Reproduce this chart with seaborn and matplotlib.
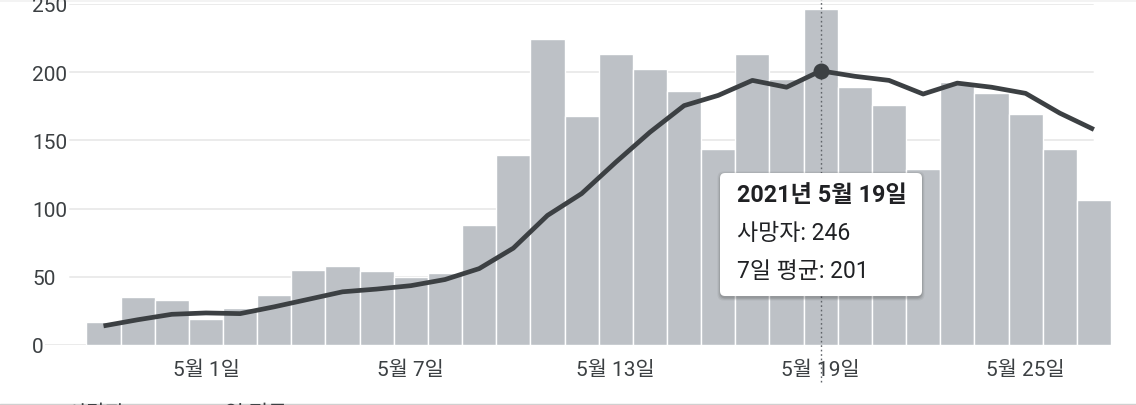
import numpy as np
import pandas as pd
import matplotlib
matplotlib.use("Agg")
import matplotlib.pyplot as plt
import matplotlib.patches as mpatches
from matplotlib.lines import Line2D
from matplotlib.transforms import IdentityTransform
import seaborn as sns

# ---------------- data ----------------
dates = pd.date_range("2021-04-28", "2021-05-27", freq="D")
deaths = [17, 35, 33, 19, 27, 37, 55, 58, 54, 50,
          53, 88, 139, 224, 168, 213, 202, 186, 144, 213,
          195, 246, 189, 176, 129, 193, 185, 169, 144, 106]
avg7 = [14, 18.5, 22.5, 23.5, 23, 28, 33.5, 39, 41, 43.5,
        48, 56, 71, 95, 111, 134, 156, 175.5, 183, 194,
        189, 201, 197, 194, 184, 192, 189, 184.5, 170, 158]
tick_dates = ["2021-05-01", "2021-05-07", "2021-05-13", "2021-05-19", "2021-05-25"]
yticks = [0, 50, 100, 150, 200, 250]
hover_date = "2021-05-19"
series_names = ["사망자", "7일 평균"]

df = pd.DataFrame({"date": dates, "deaths": deaths, "avg": avg7})
df["day"] = (df["date"] - df["date"].iloc[0]).dt.days

# ---------------- style ----------------
sns.set_style("white")
FAM = ["Roboto", "Noto Sans CJK KR", "DejaVu Sans"]
plt.rcParams["font.family"] = FAM

BAR = "#bdc1c6"
LINE = "#3c4043"
GRID = "#ebebeb"
TXT = "#3c4043"
TICK_FS = 15

W, H = 1136, 406
fig = plt.figure(figsize=(W / 100, H / 100), dpi=100)
fig.patch.set_facecolor("white")

ax_l, ax_r, ax_b, ax_t = 45, 1112, 346, 5
ax = fig.add_axes([ax_l / W, (H - ax_b) / H, (ax_r - ax_l) / W, (ax_b - ax_t) / H])
ax.set_facecolor("none")

sns.barplot(data=df, x="day", y="deaths", native_scale=True, width=1.0,
            color=BAR, saturation=1, edgecolor="white", linewidth=1.0,
            errorbar=None, ax=ax, zorder=2)
sns.lineplot(data=df, x="day", y="avg", color=LINE, linewidth=3.4,
             ax=ax, zorder=4, solid_capstyle="butt", solid_joinstyle="round")

# scales
x0 = -1.713
x1 = 29.53
ax.set_xlim(x0, x1)
ax.set_ylim(0, 250)

# grid lines (shorter on the left for the non-zero ones)
gx_end = (1093 - ax_l) / (ax_r - ax_l)
gx_start = (70 - ax_l) / (ax_r - ax_l)
for yv in yticks:
    ax.axhline(yv, xmin=0 if yv == 0 else gx_start, xmax=gx_end,
               color=GRID, lw=1.4, zorder=1)

# y ticks
ax.set_yticks(yticks)
ax.set_yticklabels([str(v) for v in yticks])
ax.tick_params(axis="y", length=0, pad=9.4, labelsize=TICK_FS, labelcolor=TXT)
for lab in ax.get_yticklabels():
    lab.set_horizontalalignment("left")

# x ticks
day_of = {d.strftime("%Y-%m-%d"): int(k) for d, k in zip(df["date"], df["day"])}
xt = [day_of[d] for d in tick_dates]
xl = [f"{pd.Timestamp(d).month}월 {pd.Timestamp(d).day}일" for d in tick_dates]
ax.set_xticks(xt)
ax.set_xticklabels(xl)
ax.tick_params(axis="x", length=7, width=1, color="#dadce0", pad=3.5,
               labelsize=TICK_FS, labelcolor=TXT)
ax.set_xlabel("")
ax.set_ylabel("")
for s in ax.spines.values():
    s.set_visible(False)

# hover line and marker
hx = day_of[hover_date]
hrow = df[df["day"] == hx].iloc[0]
ax.axvline(hx, ymin=-0.1085, ymax=1.02, clip_on=False, color="#5f6368",
           lw=1.0, ls=(0, (1.2, 2.0)), zorder=3)
ax.plot([hx], [hrow["avg"]], "o", ms=10.5, color=LINE, zorder=5)

# tooltip
bx0, by_top, bw, bh = 720, 174, 202, 123
for off, alpha in [(3, 0.05), (2, 0.07), (1, 0.10)]:
    sh = mpatches.FancyBboxPatch((bx0 - off + 0.5, H - by_top - bh - off - 1.5), bw + 2 * off - 1, bh + 2 * off,
                                 boxstyle="round,pad=0,rounding_size=6",
                                 transform=IdentityTransform(), facecolor="black",
                                 edgecolor="none", alpha=alpha, zorder=8)
    fig.add_artist(sh)
box = mpatches.FancyBboxPatch((bx0, H - by_top - bh), bw, bh,
                              boxstyle="round,pad=0,rounding_size=5",
                              transform=IdentityTransform(), facecolor="white",
                              edgecolor="none", zorder=9)
fig.add_artist(box)
hd = hrow["date"]
title = f"{hd.year}년 {hd.month}월 {hd.day}일"
l1 = f"{series_names[0]}: {int(hrow['deaths'])}"
l2 = f"{series_names[1]}: {int(round(hrow['avg']))}"
tx = 737 / W
fig.text(tx, (H - 196) / H, title, fontsize=16.8, fontweight="bold", color="#202124",
         va="center", ha="left", zorder=10, family=FAM)
fig.text(tx, (H - 234) / H, l1, fontsize=16.5, color="#202124",
         va="center", ha="left", zorder=10, family=FAM)
fig.text(tx, (H - 272) / H, l2, fontsize=16.5, color="#202124",
         va="center", ha="left", zorder=10, family=FAM)

# bottom legend (cut off by the frame, as in the reference)
fig.text(67 / W, (H - 404.5) / H, series_names[0], fontsize=TICK_FS, color=TXT,
         va="top", ha="left", family=FAM)
fig.text(213 / W, (H - 404.5) / H, series_names[1], fontsize=TICK_FS, color=TXT,
         va="top", ha="left", family=FAM)
fig.add_artist(Line2D([0, 1], [(H - 404.5) / H] * 2, transform=fig.transFigure,
                      color="#d0d0d0", lw=1.0))
# faint top band
fig.add_artist(mpatches.Rectangle((0, (H - 3) / H), 1, 3 / H, transform=fig.transFigure,
                                  facecolor="#f3f3f3", edgecolor="none", zorder=0))

fig.savefig("out.png", dpi=100)
